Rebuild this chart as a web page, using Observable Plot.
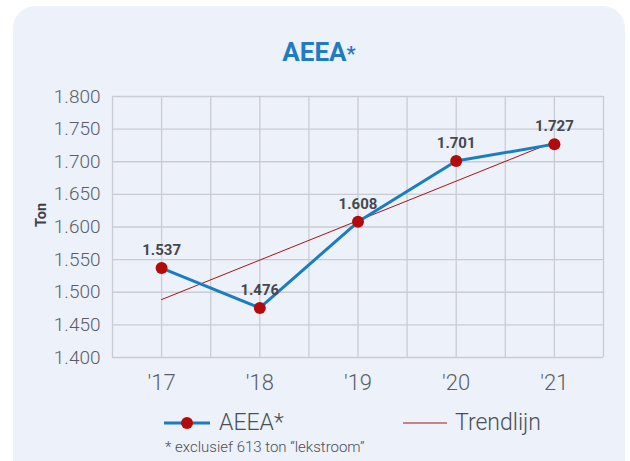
<!DOCTYPE html>
<html>
<head>
<meta charset="utf-8">
<script src="https://cdn.jsdelivr.net/npm/d3@7"></script>
<script src="https://cdn.jsdelivr.net/npm/@observablehq/plot@0.6"></script>
<style>
  html, body { margin: 0; padding: 0; background: #ffffff; width: 630px; height: 461px; overflow: hidden; font-family: Roboto, sans-serif; }
  #panel { position: absolute; left: 13px; top: 6px; width: 612px; height: 480px; border-radius: 22px; background: #edf1fa; }
  #title { position: absolute; left: 0; top: 39px; width: 638px; text-align: center; font-size: 26px; line-height: 26px; font-weight: 700; color: #1f7cc2; }
  #title span { font-size: 20px; }
  #chart { position: absolute; left: 0; top: 0; }
  .leg { position: absolute; font-size: 23px; font-weight: 300; color: #4a4f57; white-space: nowrap; }
  #note { position: absolute; left: 165px; top: 438px; font-size: 15px; font-weight: 300; color: #4a4f57; white-space: nowrap; }
</style>
</head>
<body>
<div id="panel"></div>
<div id="title">AEEA<span>*</span></div>
<div id="chart"></div>
<svg style="position:absolute;left:0;top:0" width="630" height="461">
  <line x1="164" x2="210" y1="423" y2="423" stroke="#1a7dc4" stroke-width="3"/>
  <circle cx="187" cy="423" r="6" fill="#b30b0b"/>
  <line x1="403" x2="447" y1="423" y2="423" stroke="#a51515" stroke-width="1"/>
</svg>
<div class="leg" style="left:219px;top:409px;">AEEA*</div>
<div class="leg" style="left:455px;top:409px;">Trendlijn</div>
<div id="note">* exclusief 613 ton “lekstroom”</div>
<script>
const years = ["'17", "'18", "'19", "'20", "'21"];
const values = [1537, 1476, 1608, 1701, 1727];
const yTicks = [1400, 1450, 1500, 1550, 1600, 1650, 1700, 1750, 1800];

const data = years.map((y, i) => ({i, year: y, value: values[i]}));
const gridX = d3.range(-0.5, 4.51, 0.5);
const fmt = d => `${Math.floor(d / 1000)}.${String(d % 1000).padStart(3, "0")}`;

const chart = Plot.plot({
  width: 630,
  height: 400,
  marginTop: 96,
  marginBottom: 43,
  marginLeft: 112,
  marginRight: 27,
  style: {background: "transparent", fontFamily: "Roboto, sans-serif", overflow: "visible"},
  x: {type: "linear", domain: [-0.5, 4.5]},
  y: {domain: [1400, 1800]},
  marks: [
    Plot.ruleX(gridX, {x: d => d, stroke: "#c9ccd4", strokeWidth: 1.3}),
    Plot.ruleY(yTicks, {y: d => d, stroke: "#c9ccd4", strokeWidth: 1.3}),
    Plot.axisY({ticks: yTicks, tickSize: 0, tickPadding: 12, tickFormat: fmt, fontSize: 19, fontWeight: 300, fill: "#5a5e66", label: null}),
    Plot.axisX({ticks: [0, 1, 2, 3, 4], tickSize: 0, tickPadding: 17, tickFormat: d => years[d], fontSize: 22, fontWeight: 300, fill: "#5a5e66", label: null}),
    Plot.text(["Ton"], {frameAnchor: "left", dx: -71, rotate: -90, fontWeight: "bold", fontSize: 14.5, fill: "#3c3f45"}),
    Plot.linearRegressionY(data, {x: "i", y: "value", stroke: "#a51515", strokeWidth: 1, ci: 0}),
    Plot.line(data, {x: "i", y: "value", stroke: "#1a7dc4", strokeWidth: 3}),
    Plot.dot(data, {x: "i", y: "value", r: 6, fill: "#b30b0b"}),
    Plot.text(data, {x: "i", y: "value", text: d => fmt(d.value), dy: -18, fontWeight: "bold", fontSize: 15, fill: "#45484e"})
  ]
});
document.getElementById("chart").appendChild(chart);
</script>
</body>
</html>
